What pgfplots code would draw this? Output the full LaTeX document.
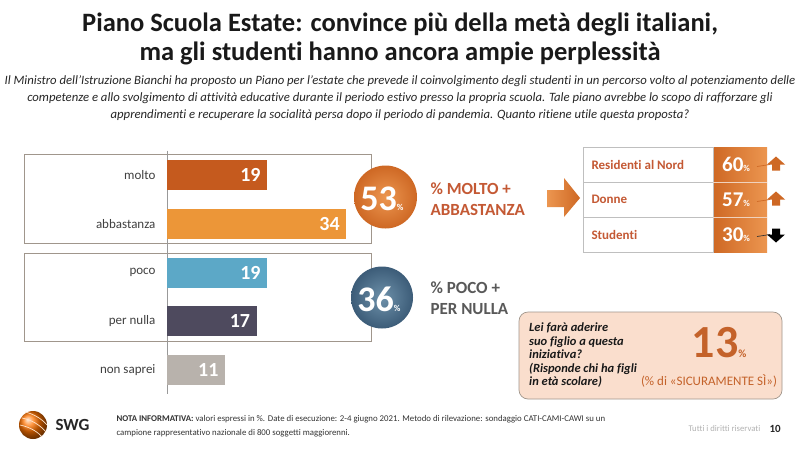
\documentclass[border=0pt]{standalone}
\usepackage{pgfplots}
\pgfplotsset{compat=1.18}
\usepackage{fontspec}
\setmainfont{Carlito}[Ligatures={TeX,NoCommon}]
\usetikzlibrary{shadings}
\definecolor{cMolto}{RGB}{197,90,30}
\definecolor{cAbb}{RGB}{236,150,56}
\definecolor{cPoco}{RGB}{92,168,199}
\definecolor{cNulla}{RGB}{78,74,94}
\definecolor{cNS}{RGB}{184,178,172}
\definecolor{cLab}{RGB}{64,64,64}
\definecolor{cRed}{RGB}{196,89,52}
\definecolor{cOr}{RGB}{206,104,36}
\definecolor{cOrL}{RGB}{236,150,80}
\definecolor{cBlue}{RGB}{60,92,120}
\definecolor{cBlueL}{RGB}{110,145,170}
\definecolor{cBox}{RGB}{160,150,140}
\definecolor{cPeach}{RGB}{250,222,205}
\definecolor{cThirteen}{RGB}{196,98,42}
\begin{document}
\begin{tikzpicture}[x=1pt,y=-1pt]
\fill[white] (0,0) rectangle (800,448);
\useasboundingbox (0,0) rectangle (800,448);
% title
\node[font=\fontsize{26.5}{29.5}\selectfont\bfseries, text=black!90, align=center] at (400,39) {Piano Scuola Estate: convince più della metà degli italiani,\\ma gli studenti hanno ancora ampie perplessità};
\node[font=\fontsize{12.7}{17}\selectfont\itshape, text=black!85, align=center] at (400,98) {Il Ministro dell'Istruzione Bianchi ha proposto un Piano per l'estate che prevede il coinvolgimento degli studenti in un percorso volto al potenziamento delle\\competenze e allo svolgimento di attività educative durante il periodo estivo presso la propria scuola. Tale piano avrebbe lo scopo di rafforzare gli\\apprendimenti e recuperare la socialità persa dopo il periodo di pandemia. Quanto ritiene utile questa proposta?};
% group boxes
\draw[cBox, line width=0.6pt] (24,154) rectangle (371,243);
\draw[cBox, line width=0.6pt] (24,253) rectangle (371,341);
\begin{axis}[at={(167pt,-394.375pt)}, anchor=south west, scale only axis,
  width=204pt, height=243.75pt, xmin=0, xmax=38.7, ymin=-0.5, ymax=4.5,
  y dir=reverse, xbar, bar width=30pt, clip=false,
  axis x line=none, axis y line=left, axis line style={draw=gray!80, -, line width=0.6pt},
  ytick={0,1,2,3,4}, yticklabels={molto,abbastanza,poco,per nulla,non saprei},
  major tick length=0pt,
  yticklabel style={font=\fontsize{13}{13}\selectfont, text=cLab, xshift=-8pt},
  /pgf/number format/assume math mode=true,
  nodes near coords,
  every node near coord/.append style={anchor=east, xshift=-3pt, text=white, font=\fontsize{20}{20}\selectfont\bfseries},
  ]
\addplot[fill=cMolto, draw=none, bar shift=0pt] coordinates {(19,0)};
\addplot[fill=cAbb, draw=none, bar shift=0pt] coordinates {(34,1)};
\addplot[fill=cPoco, draw=none, bar shift=0pt] coordinates {(19,2)};
\addplot[fill=cNulla, draw=none, bar shift=0pt] coordinates {(17,3)};
\addplot[fill=cNS, draw=none, bar shift=0pt] coordinates {(11,4)};
\end{axis}
% circles
\shade[inner color=cOrL, outer color=cOr] (385.5,197) circle[radius=31.5pt];
\node[text=white, font=\fontsize{36}{36}\selectfont\bfseries, inner sep=0pt] at (382,199) {53\fontsize{9}{9}\selectfont\%};
\shade[inner color=cBlueL, outer color=cBlue] (382,297.5) circle[radius=31pt];
\node[text=white, font=\fontsize{36}{36}\selectfont\bfseries, inner sep=0pt] at (379,299) {36\fontsize{9}{9}\selectfont\%};
\node[anchor=west, align=left, text=cRed, font=\fontsize{17}{21}\selectfont\bfseries] at (427,199) {\% MOLTO +\\ABBASTANZA};
\node[anchor=west, align=left, text=black!65, font=\fontsize{17}{21}\selectfont\bfseries] at (427,298) {\% POCO +\\PER NULLA};
% arrow
\shade[left color=cOrL, right color=cOr] (547,190)--(564,190)--(564,178)--(580,198)--(564,217)--(564,207)--(547,207)--cycle;
% table
\shade[left color=cOr, right color=cOrL] (713,147) rectangle (767,252);
\draw[black!25, line width=0.6pt] (583,147) rectangle (713,252);
\draw[black!25, line width=0.6pt] (583,182)--(713,182) (583,217)--(713,217);
\draw[white!70!cOr, line width=0.6pt] (713,182)--(767,182) (713,217)--(767,217);
\foreach \y/\t/\v in {164.5/Residenti al Nord/60, 199.5/Donne/57, 234.5/Studenti/30}{
  \node[anchor=west, text=cRed, font=\fontsize{13}{13}\selectfont\bfseries] at (588,\y) {\t};
  \node[anchor=west, text=white, font=\fontsize{21}{21}\selectfont\bfseries, inner sep=0pt] at (722,\y) {\v\fontsize{9}{9}\selectfont\%};
}
% up arrows
\foreach \y in {164.5,199.5}{
  \draw[cOr, line width=0.7pt] (757,\y+2)--(770,\y);
  \fill[cOr] (767,\y)--(776,\y-8)--(785,\y)--(780,\y)--(780,\y+6)--(772,\y+6)--(772,\y)--cycle;
}
\draw[black!80, line width=0.7pt] (757,236.5)--(770,234.5);
\fill[black] (767,234.5)--(776,242.5)--(785,234.5)--(780,234.5)--(780,228.5)--(772,228.5)--(772,234.5)--cycle;
% bottom box
\draw[fill=cPeach, draw=cBox, line width=0.7pt, rounded corners=9pt] (519,312) rectangle (782,399);
\node[anchor=north west, align=left, text=black!90, font=\fontsize{12.5}{13.4}\selectfont\bfseries\itshape, inner sep=0pt] at (529,323) {Lei farà aderire\\suo figlio a questa\\iniziativa?\\(Risponde chi ha figli\\in età scolare)};
\node[text=cThirteen, font=\fontsize{46}{46}\selectfont\bfseries, inner sep=0pt] at (719,343) {13\fontsize{11}{11}\selectfont\%};
\node[text=cThirteen, font=\fontsize{13}{13}\selectfont] at (709,381) {(\% di «SICURAMENTE SÌ»)};
% footer logo
\shade[ball color=orange!90!red] (33,425) circle[radius=14pt];
\draw[white!80!orange, line width=0.7pt] (22,418) .. controls (32,420) and (40,425) .. (46,432);
\draw[white!80!orange, line width=0.7pt] (20,425) .. controls (30,427) and (38,432) .. (42,437);
\draw[white!80!orange, line width=0.7pt] (25,412) .. controls (34,414) and (42,419) .. (47,425);
\node[anchor=west, text=black!85, font=\fontsize{17}{17}\selectfont\bfseries] at (52,425) {SWG};
\node[anchor=west, align=left, text=black!80, font=\fontsize{8.8}{14}\selectfont] at (113,426) {\textbf{NOTA INFORMATIVA:} valori espressi in \%. Date di esecuzione: 2-4 giugno 2021. Metodo di rilevazione: sondaggio CATI-CAMI-CAWI su un\\campione rappresentativo nazionale di 800 soggetti maggiorenni.};
\node[anchor=west, text=black!30, font=\fontsize{8.7}{9}\selectfont] at (685,429) {Tutti i diritti riservati};
\node[anchor=west, text=black!85, font=\fontsize{11}{11}\selectfont\bfseries] at (766,429) {10};
\end{tikzpicture}
\end{document}
